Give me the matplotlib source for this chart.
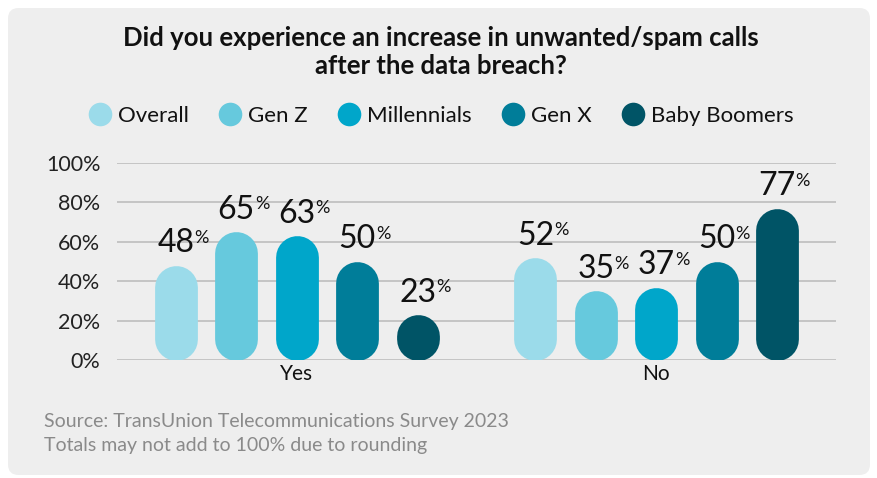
import numpy as np
import matplotlib.pyplot as plt
from matplotlib.patches import FancyBboxPatch
from matplotlib.lines import Line2D

plt.rcParams['font.family'] = ['Lato', 'DejaVu Sans']

# survey answers and the share of each generation giving them
answers = ['Yes', 'No']
groups = ['Overall', 'Gen Z', 'Millennials', 'Gen X', 'Baby Boomers']
yes_pct = [48, 65, 63, 50, 23]
no_pct = [52, 35, 37, 50, 77]
colors = ['#9bdbea', '#66c9dd', '#00a6ca', '#007d99', '#005466']
yticks = [0, 20, 40, 60, 80, 100]

title = 'Did you experience an increase in unwanted/spam calls\nafter the data breach?'
notes = ['Source: TransUnion Telecommunications Survey 2023',
         'Totals may not add to 100% due to rounding']

W, H, DPI = 878, 478, 100
fig = plt.figure(figsize=(W / DPI, H / DPI), dpi=DPI)
fig.patch.set_facecolor('white')

# grey rounded card behind everything
card = FancyBboxPatch((8 / W, 3 / H), (870 - 8) / W, (470 - 3) / H,
                      boxstyle='round,pad=0,rounding_size=0.012',
                      transform=fig.transFigure, facecolor='#eeeeee',
                      edgecolor='none', mutation_aspect=W / H, zorder=-5)
fig.patches.append(card)

ax_l, ax_r, ax_b, ax_t = 117, 836, 360, 163
ax = fig.add_axes([ax_l / W, 1 - ax_b / H, (ax_r - ax_l) / W, (ax_b - ax_t) / H])
ax.set_facecolor('none')
ax.set_xlim(-0.5, 1.5)
ax.set_ylim(0, 100)

step = 0.168
width = 0.119
offsets = (np.arange(len(groups)) - 2) * step

# pill-shaped bars: a thick line with round caps, sized from the data transform
x0_px, y0_px = ax.transData.transform((0, 0))
x1_px, _ = ax.transData.transform((width, 0))
bar_px = x1_px - x0_px
cap = ax.transData.inverted().transform((x0_px, y0_px + bar_px / 2))[1]
lw = bar_px * 72 / DPI

for gi, vals in enumerate([yes_pct, no_pct]):
    for bi, v in enumerate(vals):
        x = gi + offsets[bi]
        lo, hi = cap, max(cap, v - cap)
        ax.plot([x, x], [lo, hi], color=colors[bi], linewidth=lw,
                solid_capstyle='round', zorder=3)
        num = ax.annotate(f'{v}', xy=(x, v), xytext=(0, 7),
                          textcoords='offset pixels', ha='center', va='bottom',
                          fontsize=23, color='#111111', zorder=4)
        ax.annotate('%', xy=(1.0, 0.95), xycoords=num, ha='left', va='top',
                    fontsize=13, color='#111111', zorder=4)

ax.set_yticks(yticks)
ax.set_yticklabels([f'{t}%' for t in yticks], fontsize=15.5, color='#222222')
ax.set_xticks([0, 1])
ax.set_xticklabels(answers, fontsize=15, color='#111111')
ax.tick_params(axis='both', length=0)
ax.tick_params(axis='y', pad=12)
ax.tick_params(axis='x', pad=3)
ax.grid(axis='y', color='#bdbdbd', linewidth=1.2, zorder=0)
for s in ax.spines.values():
    s.set_visible(False)

fig.text(441 / W, 1 - 52 / H, title, ha='center', va='center',
         fontsize=18.5, fontweight='bold', color='#111111', linespacing=1.2)

handles = [Line2D([], [], marker='o', linestyle='none', markersize=17,
                  markerfacecolor=c, markeredgecolor='none') for c in colors]
fig.legend(handles, groups, loc='center', bbox_to_anchor=(441 / W, 1 - 116 / H),
           ncol=5, frameon=False, fontsize=16, handletextpad=0.32,
           columnspacing=1.35, handlelength=1.0, labelcolor='#111111')

for i, line in enumerate(notes):
    fig.text(44 / W, 1 - (421 + 25 * i) / H, line, ha='left', va='center',
             fontsize=14, color='#8a8a8a')

fig.savefig('out.png', dpi=DPI)
